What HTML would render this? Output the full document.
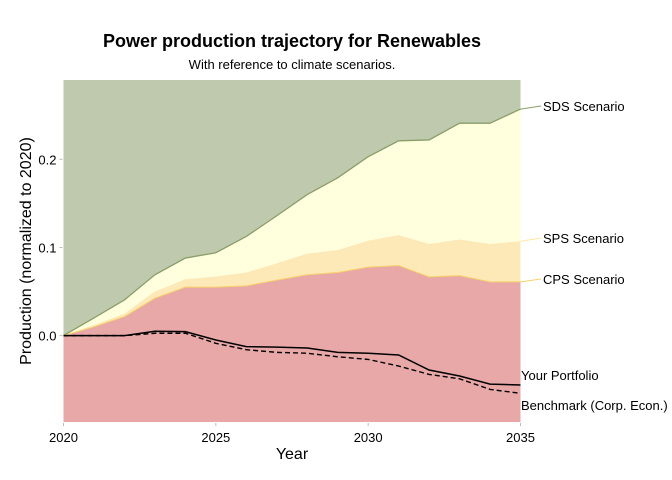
<!DOCTYPE html>
<html><head><meta charset="utf-8">
<style>
html,body{margin:0;padding:0;background:#fff;}
svg{display:block;font-family:"Liberation Sans",Arial,sans-serif;}
</style></head>
<body>
<svg id="chart" width="672" height="480" viewBox="0 0 672 480" xmlns="http://www.w3.org/2000/svg">
<text x="292" y="47" text-anchor="middle" font-size="18" font-weight="bold" fill="#000">Power production trajectory for Renewables</text>
<text x="292" y="69" text-anchor="middle" font-size="13" fill="#000">With reference to climate scenarios.</text>
<text x="292" y="459" text-anchor="middle" font-size="16" fill="#000">Year</text>
<text transform="translate(31,251) rotate(-90)" text-anchor="middle" font-size="16" fill="#000">Production (normalized to 2020)</text>
<g id="plot"></g>
</svg>
<script>
const years = [2020,2021,2022,2023,2024,2025,2026,2027,2028,2029,2030,2031,2032,2033,2034,2035];
const sds = [0,0.02,0.0405,0.069,0.088,0.094,0.1125,0.136,0.16,0.179,0.203,0.221,0.222,0.241,0.241,0.257];
const sps = [0,0.012,0.025,0.05,0.064,0.067,0.0716,0.082,0.093,0.097,0.1076,0.114,0.104,0.109,0.104,0.107];
const cps = [0,0.01,0.0216,0.0425,0.055,0.055,0.0565,0.063,0.069,0.0716,0.0777,0.0795,0.0667,0.068,0.061,0.061];
const portfolio = [0,0,0,0.005,0.0045,-0.005,-0.0125,-0.013,-0.014,-0.019,-0.02,-0.022,-0.039,-0.0458,-0.055,-0.056];
const benchmark = [0,0,0,0.0027,0.0027,-0.0087,-0.016,-0.019,-0.02,-0.024,-0.027,-0.0345,-0.044,-0.049,-0.061,-0.0655];
const xTicks = [2020,2025,2030,2035];
const yTicks = [0,0.1,0.2];
const yTickLabels = ["0.0","0.1","0.2"];

const X0=63.5, X1=520.5, YTOP=80, YBOT=422;
const xDom=[2020,2035], yDom=[-0.098,0.29];
function xs(v){return X0+(v-xDom[0])/(xDom[1]-xDom[0])*(X1-X0);}
function ys(v){return YBOT-(v-yDom[0])/(yDom[1]-yDom[0])*(YBOT-YTOP);}
const NS="http://www.w3.org/2000/svg";
const g=document.getElementById('plot');
function mk(tag,attrs){const e=document.createElementNS(NS,tag);for(const k in attrs)e.setAttribute(k,attrs[k]);return e;}
function linePts(arr){return arr.map((v,i)=>xs(years[i]).toFixed(2)+','+ys(v).toFixed(2)).join(' ');}
function areaBelow(arr){return 'M'+xs(years[0])+','+YBOT+' L'+linePts(arr).split(' ').join(' L')+' L'+xs(years[years.length-1])+','+YBOT+' Z';}

// background = sds-above region
let bg=mk('rect',{x:X0,y:YTOP,width:X1-X0,height:YBOT-YTOP,fill:'#bfc9ae'});


g.appendChild(bg);
const areas=[[sds,'#ffffdd','sds-area'],[sps,'#fde8b8','sps-area'],[cps,'#e8a8a7','cps-area']];
areas.forEach(a=>{
  const p=mk('path',{d:areaBelow(a[0]),fill:a[1]});
  
  
  g.appendChild(p);
});
let l1=mk('polyline',{points:linePts(sds),fill:'none',stroke:'#8a9e6a','stroke-width':1.3});


g.appendChild(l1);
let l2=mk('polyline',{points:linePts(cps),fill:'none',stroke:'#f6d26a','stroke-width':1});


g.appendChild(l2);
let l3=mk('polyline',{points:linePts(benchmark),fill:'none',stroke:'#000','stroke-width':1.4,'stroke-dasharray':'5,3'});


g.appendChild(l3);
let l4=mk('polyline',{points:linePts(portfolio),fill:'none',stroke:'#000','stroke-width':1.5});


g.appendChild(l4);

// axes ticks
xTicks.forEach(t=>{
  const tk=mk('line',{x1:xs(t),x2:xs(t),y1:YBOT+1,y2:YBOT+4,stroke:'#bbb','stroke-width':1});
  
  
  g.appendChild(tk);
  const tx=mk('text',{x:xs(t),y:YBOT+20,'text-anchor':'middle','font-size':13,fill:'#000'});
  tx.textContent=t;
  
  
  g.appendChild(tx);
});
yTicks.forEach((t,i)=>{
  const tk=mk('line',{x1:X0-4,x2:X0-1,y1:ys(t),y2:ys(t),stroke:'#bbb','stroke-width':1});
  
  
  g.appendChild(tk);
  const tx=mk('text',{x:X0-7,y:ys(t)+5,'text-anchor':'end','font-size':13,fill:'#000'});
  tx.textContent=yTickLabels[i];
  
  
  g.appendChild(tx);
});

// labels
const last=years.length-1;
const labs=[[sds[last],106,'SDS Scenario','#8a9e6a','sds-label'],[sps[last],238,'SPS Scenario','#fde8a0','sps-label'],[cps[last],279,'CPS Scenario','#f6d26a','cps-label']];
labs.forEach(l=>{
  const ln=mk('line',{x1:X1,y1:ys(l[0]),x2:541,y2:l[1],stroke:l[3],'stroke-width':1});
  
  
  g.appendChild(ln);
  const tx=mk('text',{x:543,y:l[1]+5,'font-size':13,fill:'#000'});
  tx.textContent=l[2];
  
  
  g.appendChild(tx);
});
const pl=mk('text',{x:521,y:380,'font-size':13,fill:'#000'});
pl.textContent='Your Portfolio';


g.appendChild(pl);
const bl=mk('text',{x:521,y:410,'font-size':13,fill:'#000'});
bl.textContent='Benchmark (Corp. Econ.)';


g.appendChild(bl);
</script>
</body></html>
